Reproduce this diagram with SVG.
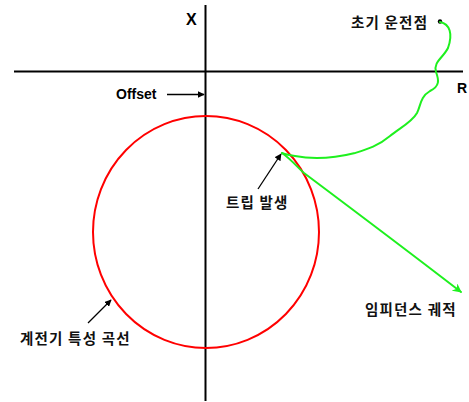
<svg xmlns="http://www.w3.org/2000/svg" width="469" height="402" viewBox="0 0 469 402">
<style>
.ax{stroke:#000;stroke-width:2;fill:none}
.lat{font-family:"Liberation Sans",Arial,sans-serif;font-weight:bold;fill:#000}
.kr{font-family:"Noto Sans CJK KR","Noto Sans",sans-serif;font-weight:bold;font-size:14.5px;fill:#111;letter-spacing:1.2px}
.ptr{stroke:#000;stroke-width:1.3;fill:none;marker-end:url(#ah)}
.grn{stroke:#1ef01e;stroke-width:2;fill:none;stroke-linecap:round}
</style>
<defs>
<marker id="ah" viewBox="0 0 10 10" refX="9" refY="5" markerWidth="7" markerHeight="7" orient="auto" markerUnits="userSpaceOnUse"><path d="M0,0 L10,5 L0,10 z" fill="#000"/></marker>
<marker id="ga" viewBox="0 0 10 10" refX="9" refY="5" markerWidth="9" markerHeight="9" orient="auto" markerUnits="userSpaceOnUse"><path d="M0,0 L10,5 L0,10 L3,5 z" fill="#1ef01e"/></marker>
</defs>
<rect width="469" height="402" fill="#fff"/>
<g id="axes">
<line class="ax" x1="205.5" y1="5" x2="205.5" y2="401"/>
<line class="ax" x1="14" y1="71.5" x2="463" y2="71.5"/>
<text class="lat" x="186" y="25" font-size="16">X</text>
<text class="lat" x="457" y="93" font-size="14">R</text>
</g>
<g id="relay-curve">
<ellipse cx="206" cy="232" rx="113" ry="116" fill="none" stroke="#ff0000" stroke-width="2"/>
</g>
<g id="initial-point">
<circle cx="440" cy="21.5" r="2.2" fill="#000"/>
<text class="kr" x="351" y="28">초기 운전점</text>
</g>
<g id="offset-label">
<text class="lat" x="116" y="99" font-size="14">Offset</text>
</g>
<g id="trip-label">
<text class="kr" x="226" y="208">트립 발생</text>
</g>
<g id="impedance-label">
<text class="kr" x="365" y="315">임피던스 궤적</text>
</g>
<g id="relay-label">
<text class="kr" x="20" y="344">계전기 특성 곡선</text>
</g>
<g id="connectors">
<path class="grn" d="M440,22 C450,24 453,34 448,48 C443,58 433,62 436,72 C439,80 440,86 430,91 C420,97 421,105 417,113 C412,122 400,128 390,136 C378,146 368,149 355,153 C335,158 315,160 295,156 C288,155 284,154 282,153"/>
<path class="grn" d="M282,153 C292,160 298,168 304,173 C340,200 400,245 461,292" marker-end="url(#ga)"/>
<line class="ptr" x1="167" y1="94.5" x2="204" y2="94.5"/>
<line class="ptr" x1="258" y1="189" x2="281" y2="154"/>
<line class="ptr" x1="88" y1="323" x2="111" y2="300"/>
</g>
</svg>
